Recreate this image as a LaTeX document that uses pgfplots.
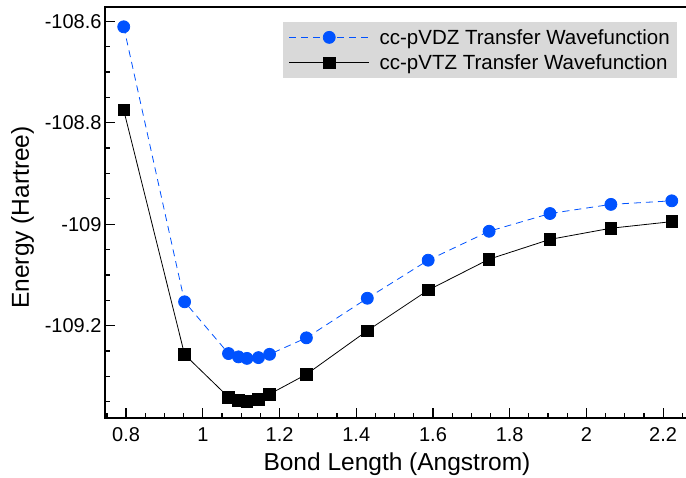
\documentclass[border=0pt]{standalone}
\usepackage{fontspec}
\setmainfont{Liberation Sans}
\usepackage{pgfplots}
\pgfplotsset{compat=1.18}
\definecolor{myblue}{RGB}{0,82,255}
\definecolor{leggray}{RGB}{217,217,217}
\begin{document}
\begin{tikzpicture}
\begin{axis}[
  scale only axis, width=596.5pt, height=411pt,
  xmin=0.745, xmax=2.30, ymin=-109.382, ymax=-108.572,
  xtick={0.8,1.0,1.2,1.4,1.6,1.8,2.0,2.2},
  xticklabels={0.8,1,1.2,1.4,1.6,1.8,2,2.2},
  ytick={-109.2,-109.0,-108.8,-108.6},
  yticklabels={-109.2,-109,-108.8,-108.6},
  minor xtick={0.75,0.85,0.9,0.95,1.05,1.1,1.15,1.25,1.3,1.35,1.45,1.5,1.55,1.65,1.7,1.75,1.85,1.9,1.95,2.05,2.1,2.15,2.25},
  minor ytick={-109.35,-109.3,-109.25,-109.15,-109.1,-109.05,-108.95,-108.9,-108.85,-108.75,-108.7,-108.65},
  tick align=inside, xtick pos=bottom, ytick pos=left,
  major tick length=10pt, minor tick length=5pt,
  every tick/.style={black, line width=1.2pt},
  axis line style={line width=1.6pt},
  tick label style={font=\fontsize{20}{24}\selectfont},
  xticklabel style={yshift=-6pt},
  label style={font=\fontsize{24.5}{28}\selectfont},
  xlabel={Bond Length (Angstrom)},
  ylabel={Energy (Hartree)},
  xlabel style={at={(axis description cs:0.4895,0)}, anchor=center, yshift=-46pt},
  ylabel style={at={(axis description cs:-0.1383,0.4878)}, anchor=center},
  legend style={at={(axis description cs:0.9589,0.9635)}, anchor=north east,
    fill=leggray, draw=none, font=\fontsize{20.5}{22}\selectfont,
    row sep=5pt, column sep=9pt, inner xsep=6pt, inner ysep=5pt,
    nodes={inner xsep=1pt, inner ysep=2pt}},
  legend cell align=left,
  legend image code/.code={\draw[mark repeat=2,mark phase=2,#1] plot coordinates {(0pt,0pt) (40pt,0pt) (80pt,0pt)};},
]
\addplot[color=myblue, dash pattern=on 7pt off 5pt, line width=0.8pt, mark=*, mark size=6pt, mark options={solid}] coordinates {
(0.7938,-108.611)
(0.9525,-109.153)
(1.067,-109.255)
(1.093,-109.2615)
(1.115,-109.2645)
(1.145,-109.263)
(1.174,-109.2565)
(1.270,-109.224)
(1.4288,-109.146)
(1.5875,-109.071)
(1.7463,-109.014)
(1.905,-108.979)
(2.0638,-108.961)
(2.2225,-108.954)
};
\addlegendentry{cc-pVDZ Transfer Wavefunction}
\addplot[color=black, line width=0.8pt, mark=square*, mark size=5.75pt, mark options={solid}] coordinates {
(0.7938,-108.775)
(0.9525,-109.257)
(1.067,-109.341)
(1.093,-109.347)
(1.115,-109.349)
(1.145,-109.345)
(1.174,-109.335)
(1.270,-109.296)
(1.4288,-109.210)
(1.5875,-109.130)
(1.7463,-109.069)
(1.905,-109.030)
(2.0638,-109.008)
(2.2225,-108.995)
};
\addlegendentry{cc-pVTZ Transfer Wavefunction}
\end{axis}
\pgfresetboundingbox
\path[use as bounding box] ([xshift=-105pt,yshift=-59pt]current axis.south west) rectangle ([xshift=581pt,yshift=418pt]current axis.south west);
\end{tikzpicture}
\end{document}
